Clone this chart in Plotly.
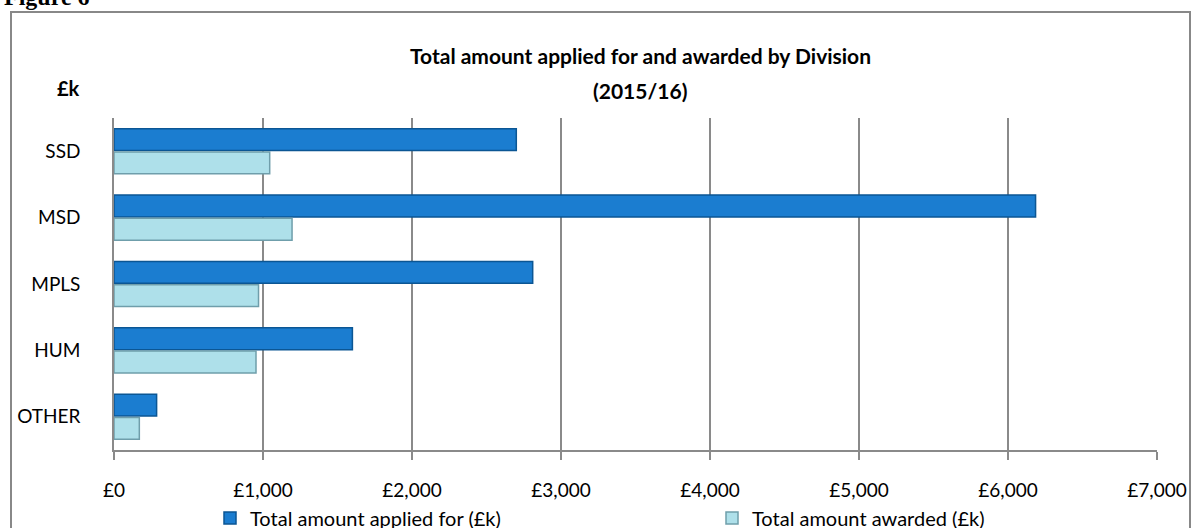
import plotly.graph_objects as go

categories = ["SSD", "MSD", "MPLS", "HUM", "OTHER"]
applied = [2700, 6185, 2810, 1600, 286]
awarded = [1045, 1195, 970, 953, 170]
tick_vals = [0, 1000, 2000, 3000, 4000, 5000, 6000, 7000]
tick_text = ["£0", "£1,000", "£2,000", "£3,000", "£4,000", "£5,000", "£6,000", "£7,000"]

W, H = 1200, 528
L, R, T, B = 114, 43, 118, 78
pw, ph = W - L - R, H - T - B

def px_x(x):
    return (x - L) / pw

def px_y(y):
    return (H - B - y) / ph

FONT = "Lato"
GRID = "#8a8a8a"

fig = go.Figure()
fig.add_trace(go.Bar(
    y=categories, x=applied, orientation="h", name="Total amount applied for (£k)",
    marker=dict(color="#1b7dd0", line=dict(color="#0b5694", width=1.5)),
    legend="legend",
))
fig.add_trace(go.Bar(
    y=categories, x=awarded, orientation="h", name="Total amount awarded (£k)",
    marker=dict(color="#aee0ea", line=dict(color="#6f9eab", width=1.5)),
    legend="legend2",
))

legend_common = dict(orientation="h", yanchor="middle", xanchor="left",
                     font=dict(family=FONT, size=20, color="black"),
                     itemwidth=30, bgcolor="rgba(0,0,0,0)")

fig.update_layout(
    width=W, height=H,
    margin=dict(l=L, r=R, t=T, b=B, autoexpand=False),
    paper_bgcolor="white", plot_bgcolor="white",
    barmode="group", bargap=0.3, bargroupgap=0.06,
    font=dict(family=FONT, size=19, color="black"),
    xaxis=dict(
        range=[0, 7000], tickvals=tick_vals, ticktext=tick_text,
        showgrid=True, gridcolor=GRID, gridwidth=1.5,
        showline=True, linecolor=GRID, linewidth=1.5,
        ticks="outside", ticklen=8, tickcolor=GRID, tickwidth=1.5,
        zeroline=False, tickfont=dict(size=19), ticklabelstandoff=14,
        automargin=False,
    ),
    yaxis=dict(
        autorange="reversed", showline=True, linecolor=GRID, linewidth=1.5,
        ticks="", tickfont=dict(size=19), ticklabelstandoff=28, automargin=False,
    ),
    legend=dict(x=px_x(210), y=px_y(518), **legend_common),
    legend2=dict(x=px_x(712), y=px_y(518), **legend_common),
    showlegend=True,
)

fig.add_shape(type="rect", xref="paper", yref="paper",
              x0=px_x(11), x1=px_x(1190), y0=px_y(560), y1=px_y(12),
              line=dict(color="#888888", width=2), fillcolor="rgba(0,0,0,0)", layer="below")

fig.add_annotation(text="<b>Total amount applied for and awarded by Division</b>",
                   xref="paper", yref="paper", x=px_x(640), y=px_y(55),
                   xanchor="center", yanchor="middle", showarrow=False,
                   font=dict(family=FONT, size=21, color="black"))
fig.add_annotation(text="<b>(2015/16)</b>",
                   xref="paper", yref="paper", x=px_x(640), y=px_y(90),
                   xanchor="center", yanchor="middle", showarrow=False,
                   font=dict(family=FONT, size=21, color="black"))

fig.add_annotation(text="<b>£k</b>", xref="paper", yref="paper",
                   x=px_x(68), y=px_y(88), xanchor="center", yanchor="middle",
                   showarrow=False, font=dict(family=FONT, size=20, color="black"))

fig.add_annotation(text="<b>Figure 6</b>", xref="paper", yref="paper",
                   x=px_x(2), y=px_y(12), xanchor="left", yanchor="bottom",
                   showarrow=False, font=dict(family="Liberation Serif", size=24, color="black"))

fig.write_html("out.html", config={"displayModeBar": False},
               post_script="document.body.style.margin='0';")
